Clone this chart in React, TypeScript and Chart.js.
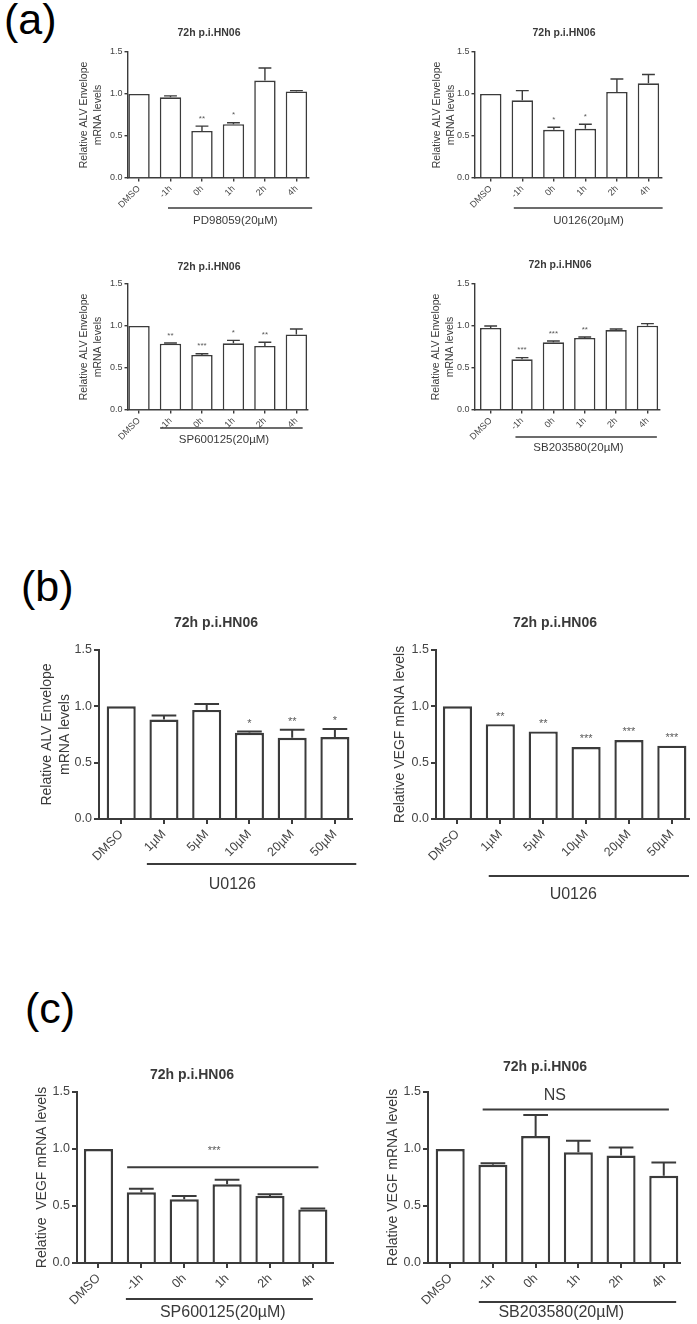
import React, { useEffect, useRef } from 'react';
import { Chart, registerables } from 'chart.js';

Chart.register(...registerables);

// ---------------- data ----------------
const timeCategories = ['DMSO', '-1h', '0h', '1h', '2h', '4h'];
const doseCategories = ['DMSO', '1µM', '5µM', '10µM', '20µM', '50µM'];
const yTickValues = [0, 0.5, 1.0, 1.5];

// (a) ALV Envelope, PD98059
const pdEnvMean = [1.0, 0.96, 0.56, 0.64, 1.16, 1.03];
const pdEnvSem = [0, 0.018, 0.058, 0.017, 0.15, 0.01];
const pdEnvSig = ['', '', '**', '*', '', ''];

// (a) ALV Envelope, U0126
const uEnvMean = [1.0, 0.925, 0.573, 0.585, 1.024, 1.127];
const uEnvSem = [0, 0.115, 0.032, 0.055, 0.154, 0.106];
const uEnvSig = ['', '', '*', '*', '', ''];

// (a) ALV Envelope, SP600125
const spEnvMean = [1.0, 0.79, 0.655, 0.794, 0.762, 0.9];
const spEnvSem = [0, 0.008, 0.015, 0.035, 0.044, 0.064];
const spEnvSig = ['', '**', '***', '*', '**', ''];

// (a) ALV Envelope, SB203580
const sbEnvMean = [0.976, 0.603, 0.806, 0.857, 0.952, 1.004];
const sbEnvSem = [0.024, 0.02, 0.015, 0.012, 0.012, 0.024];
const sbEnvSig = ['', '***', '***', '**', '', ''];

// (b) ALV Envelope, U0126 dose
const doseEnvMean = [1.0, 0.883, 0.968, 0.765, 0.721, 0.727];
const doseEnvSem = [0, 0.035, 0.052, 0.012, 0.071, 0.071];
const doseEnvSig = ['', '', '', '*', '**', '*'];

// (b) VEGF, U0126 dose
const doseVegfMean = [1.0, 0.842, 0.777, 0.639, 0.701, 0.651];
const doseVegfSem = [0, 0, 0, 0, 0, 0];
const doseVegfSig = ['', '**', '**', '***', '***', '***'];

// (c) VEGF, SP600125
const spVegfMean = [1.0, 0.62, 0.559, 0.69, 0.588, 0.47];
const spVegfSem = [0, 0.032, 0.029, 0.04, 0.015, 0.008];

// (c) VEGF, SB203580
const sbVegfMean = [1.0, 0.861, 1.113, 0.971, 0.942, 0.765];
const sbVegfSem = [0, 0.014, 0.186, 0.101, 0.072, 0.116];

const chartTitle = '72h p.i.HN06';
const envTitle = ['Relative ALV Envelope', 'mRNA levels'];

// ---------------- styles ----------------
const FONT = "'Liberation Sans', Arial, Helvetica, sans-serif";
const AXIS = '#3b3b3b';
const TEXT = '#3a3a3a';
const TICK = '#444444';
const STAR = '#5a5a5a';

type Style = {
  tick: number; yTitle: number; yTitleLH: number; title: number; group: number;
  star: number; lw: number; barLw: number; tickLen: number; capRatio: number; starBase: number; xPad: number;
};

const smallStyle: Style = {
  tick: 9, yTitle: 10.5, yTitleLH: 14, title: 10.5, group: 11.5, star: 8,
  lw: 1.4, barLw: 1.6, tickLen: 3.5, capRatio: 0.6, starBase: 5.4, xPad: 2,
};
const bigStyle: Style = {
  tick: 12.5, yTitle: 14, yTitleLH: 18, title: 14, group: 16, star: 11,
  lw: 2, barLw: 2.4, tickLen: 5, capRatio: 0.85, starBase: 4.6, xPad: 3,
};

type Spec = {
  box: { x: number; y: number; w: number; h: number };
  area: { l: number; r: number; t: number; b: number };
  xMin: number; xMax: number;
  cats: string[]; mean: number[]; sem: number[]; sig?: string[];
  yTitle: string | string[]; yTitleX: number;
  titlePos: { x: number; y: number };
  group: { label: string; y: number; from: number; to: number; textAt: number; textY: number };
  sigLine?: { yValue: number; from: number; to: number; text: string; textAt: number; textDy: number; size: number };
  style: Style;
};

const specs: Spec[] = [
  {
    box: { x: 50, y: 15, w: 285, h: 220 }, area: { l: 128, r: 309, t: 52, b: 178 },
    xMin: -0.35, xMax: 5.4, cats: timeCategories, mean: pdEnvMean, sem: pdEnvSem, sig: pdEnvSig,
    yTitle: envTitle, yTitleX: 84, titlePos: { x: 209, y: 33 },
    group: { label: 'PD98059(20µM)', y: 208, from: 0.92, to: 5.5, textAt: 3.06, textY: 221 },
    style: smallStyle,
  },
  {
    box: { x: 390, y: 15, w: 295, h: 220 }, area: { l: 475, r: 662, t: 52, b: 178 },
    xMin: -0.5, xMax: 5.43, cats: timeCategories, mean: uEnvMean, sem: uEnvSem, sig: uEnvSig,
    yTitle: envTitle, yTitleX: 437, titlePos: { x: 564, y: 33 },
    group: { label: 'U0126(20µM)', y: 208, from: 0.73, to: 5.45, textAt: 3.1, textY: 221 },
    style: smallStyle,
  },
  {
    box: { x: 50, y: 245, w: 285, h: 215 }, area: { l: 128, r: 308, t: 284, b: 410 },
    xMin: -0.35, xMax: 5.37, cats: timeCategories, mean: spEnvMean, sem: spEnvSem, sig: spEnvSig,
    yTitle: envTitle, yTitleX: 84, titlePos: { x: 209, y: 267 },
    group: { label: 'SP600125(20µM)', y: 428, from: 0.67, to: 5.2, textAt: 2.7, textY: 440 },
    style: smallStyle,
  },
  {
    box: { x: 390, y: 245, w: 295, h: 215 }, area: { l: 475, r: 660, t: 284, b: 410 },
    xMin: -0.5, xMax: 5.4, cats: timeCategories, mean: sbEnvMean, sem: sbEnvSem, sig: sbEnvSig,
    yTitle: envTitle, yTitleX: 436, titlePos: { x: 560, y: 265 },
    group: { label: 'SB203580(20µM)', y: 437, from: 0.79, to: 5.3, textAt: 2.8, textY: 448 },
    style: smallStyle,
  },
  {
    box: { x: 15, y: 600, w: 345, h: 300 }, area: { l: 99, r: 352, t: 650, b: 819 },
    xMin: -0.52, xMax: 5.4, cats: doseCategories, mean: doseEnvMean, sem: doseEnvSem, sig: doseEnvSig,
    yTitle: envTitle, yTitleX: 47, titlePos: { x: 216, y: 623 },
    group: { label: 'U0126', y: 864, from: 0.6, to: 5.5, textAt: 2.6, textY: 885 },
    style: bigStyle,
  },
  {
    box: { x: 365, y: 600, w: 330, h: 305 }, area: { l: 436, r: 689, t: 650, b: 819 },
    xMin: -0.5, xMax: 5.4, cats: doseCategories, mean: doseVegfMean, sem: doseVegfSem, sig: doseVegfSig,
    yTitle: 'Relative VEGF mRNA levels', yTitleX: 400, titlePos: { x: 555, y: 623 },
    group: { label: 'U0126', y: 876, from: 0.73, to: 5.4, textAt: 2.7, textY: 895 },
    style: bigStyle,
  },
  {
    box: { x: 15, y: 1045, w: 335, h: 279 }, area: { l: 77, r: 333, t: 1092, b: 1263 },
    xMin: -0.5, xMax: 5.47, cats: timeCategories, mean: spVegfMean, sem: spVegfSem,
    yTitle: 'Relative  VEGF mRNA levels', yTitleX: 42, titlePos: { x: 192, y: 1075 },
    group: { label: 'SP600125(20µM)', y: 1299, from: 0.64, to: 5.0, textAt: 2.9, textY: 1313 },
    sigLine: { yValue: 0.84, from: 0.67, to: 5.13, text: '***', textAt: 2.7, textDy: 16, size: 11 },
    style: bigStyle,
  },
  {
    box: { x: 360, y: 1045, w: 335, h: 279 }, area: { l: 428, r: 680, t: 1092, b: 1263 },
    xMin: -0.52, xMax: 5.38, cats: timeCategories, mean: sbVegfMean, sem: sbVegfSem,
    yTitle: 'Relative VEGF mRNA levels', yTitleX: 393, titlePos: { x: 545, y: 1067 },
    group: { label: 'SB203580(20µM)', y: 1302, from: 0.67, to: 5.29, textAt: 2.6, textY: 1313 },
    sigLine: { yValue: 1.346, from: 0.76, to: 5.12, text: 'NS', textAt: 2.45, textDy: 14, size: 16 },
    style: bigStyle,
  },
];

function extrasPlugin(s: Spec) {
  const st = s.style;
  return {
    id: 'extras',
    afterDraw(chart: any) {
      const { ctx } = chart;
      const xs = chart.scales.x;
      const ys = chart.scales.y;
      const meta = chart.getDatasetMeta(0);
      ctx.save();
      ctx.strokeStyle = AXIS;
      ctx.lineWidth = st.lw;
      ctx.lineCap = 'butt';
      s.mean.forEach((m, i) => {
        const e = s.sem[i];
        const cx = xs.getPixelForValue(i);
        const bw = meta.data[i] ? meta.data[i].width : 20;
        const yTop = ys.getPixelForValue(m + e);
        if (e > 0) {
          const yb = ys.getPixelForValue(m);
          const half = (bw * st.capRatio) / 2;
          ctx.beginPath();
          ctx.moveTo(cx, yb);
          ctx.lineTo(cx, yTop);
          ctx.moveTo(cx - half, yTop);
          ctx.lineTo(cx + half, yTop);
          ctx.stroke();
        }
        const lab = s.sig ? s.sig[i] : '';
        if (lab) {
          ctx.fillStyle = STAR;
          ctx.font = `${st.star}px ${FONT}`;
          ctx.textAlign = 'center';
          ctx.textBaseline = 'alphabetic';
          ctx.fillText(lab, cx, yTop - st.starBase);
        }
      });
      // title
      ctx.fillStyle = TEXT;
      ctx.font = `bold ${st.title}px ${FONT}`;
      ctx.textAlign = 'center';
      ctx.textBaseline = 'middle';
      ctx.fillText(chartTitle, s.titlePos.x - s.box.x, s.titlePos.y - s.box.y);
      // group bracket
      const g = s.group;
      ctx.beginPath();
      ctx.moveTo(xs.getPixelForValue(g.from), g.y - s.box.y);
      ctx.lineTo(xs.getPixelForValue(g.to), g.y - s.box.y);
      ctx.stroke();
      ctx.font = `${st.group}px ${FONT}`;
      ctx.fillStyle = TEXT;
      ctx.fillText(g.label, xs.getPixelForValue(g.textAt), g.textY - s.box.y);
      // significance line
      if (s.sigLine) {
        const sl = s.sigLine;
        const py = ys.getPixelForValue(sl.yValue);
        ctx.beginPath();
        ctx.moveTo(xs.getPixelForValue(sl.from), py);
        ctx.lineTo(xs.getPixelForValue(sl.to), py);
        ctx.stroke();
        ctx.font = `${sl.size}px ${FONT}`;
        ctx.fillStyle = sl.text === 'NS' ? TEXT : STAR;
        ctx.fillText(sl.text, xs.getPixelForValue(sl.textAt), py - sl.textDy);
      }
      ctx.restore();
    },
  };
}

function buildConfig(s: Spec): any {
  const st = s.style;
  const { box, area } = s;
  const lines = Array.isArray(s.yTitle) ? s.yTitle : [s.yTitle];
  const padTop = s.yTitleX - box.x - st.yTitleLH / 2;
  return {
    type: 'bar',
    data: {
      datasets: [
        {
          data: s.mean.map((v, i) => ({ x: i, y: v })),
          backgroundColor: '#ffffff',
          borderColor: AXIS,
          borderWidth: st.barLw,
          borderSkipped: 'start',
          barPercentage: 0.68,
          categoryPercentage: 1,
        },
      ],
    },
    options: {
      responsive: false,
      animation: false,
      devicePixelRatio: 1,
      layout: { padding: { top: area.t - box.y, right: box.x + box.w - area.r, bottom: 0, left: 0 } },
      plugins: { legend: { display: false }, tooltip: { enabled: false }, title: { display: false } },
      scales: {
        x: {
          type: 'linear',
          min: s.xMin,
          max: s.xMax,
          offset: false,
          afterBuildTicks: (sc: any) => {
            sc.ticks = s.cats.map((_, i) => ({ value: i }));
          },
          afterFit: (sc: any) => {
            sc.height = box.y + box.h - area.b;
          },
          ticks: {
            autoSkip: false,
            minRotation: 45,
            maxRotation: 45,
            padding: st.xPad,
            color: TICK,
            font: { family: FONT, size: st.tick },
            callback: (v: any) => (s.cats[v] !== undefined ? s.cats[v] : ''),
          },
          grid: { display: true, offset: false, drawOnChartArea: false, drawTicks: true, tickLength: st.tickLen, color: AXIS, lineWidth: st.lw },
          border: { display: true, color: AXIS, width: st.lw },
        },
        y: {
          min: 0,
          max: 1.5,
          afterBuildTicks: (sc: any) => {
            sc.ticks = yTickValues.map((v) => ({ value: v }));
          },
          afterFit: (sc: any) => {
            sc.width = area.l - box.x;
          },
          ticks: {
            padding: 2,
            color: TICK,
            font: { family: FONT, size: st.tick },
            callback: (v: any) => Number(v).toFixed(1),
          },
          grid: { display: true, drawOnChartArea: false, drawTicks: true, tickLength: st.tickLen, color: AXIS, lineWidth: st.lw },
          border: { display: true, color: AXIS, width: st.lw },
          title: {
            display: true,
            text: lines,
            color: TEXT,
            font: { family: FONT, size: st.yTitle, lineHeight: st.yTitleLH / st.yTitle },
            padding: { top: padTop, bottom: 0 },
          },
        },
      },
    },
    plugins: [extrasPlugin(s)],
  };
}

function ChartPanel({ spec }: { spec: Spec }) {
  const ref = useRef<HTMLCanvasElement>(null);
  useEffect(() => {
    if (!ref.current) return;
    const chart = new Chart(ref.current, buildConfig(spec));
    return () => chart.destroy();
  }, [spec]);
  const { box } = spec;
  return (
    <canvas
      ref={ref}
      width={box.w}
      height={box.h}
      style={{ position: 'absolute', left: box.x, top: box.y, width: box.w, height: box.h }}
    />
  );
}

const panelLabels = [
  { text: '(a)', x: 4, y: -2 },
  { text: '(b)', x: 21, y: 565 },
  { text: '(c)', x: 25, y: 987 },
];

export default function App() {
  return (
    <div
      style={{
        position: 'absolute',
        left: 0,
        top: 0,
        width: 697,
        height: 1324,
        background: '#ffffff',
        overflow: 'hidden',
      }}
    >
      {panelLabels.map((p) => (
        <div
          key={p.text}
          style={{
            position: 'absolute',
            left: p.x,
            top: p.y,
            fontFamily: FONT,
            fontSize: 43,
            lineHeight: 1,
            color: '#000',
          }}
        >
          {p.text}
        </div>
      ))}
      {specs.map((s, i) => (
        <ChartPanel key={i} spec={s} />
      ))}
    </div>
  );
}
